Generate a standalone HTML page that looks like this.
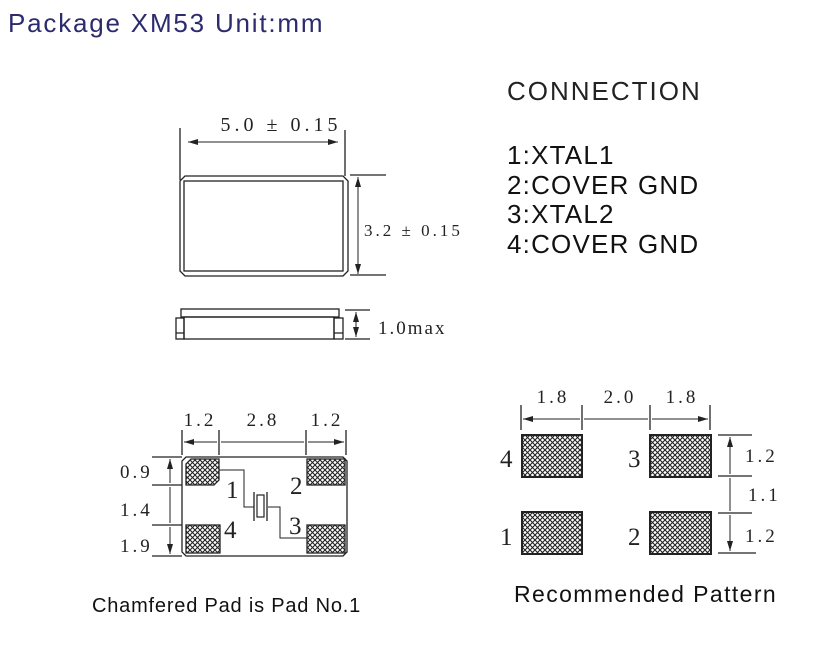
<!DOCTYPE html>
<html><head><style>body{margin:0;background:#fff}svg{display:block}</style></head><body>
<svg width="821" height="647" viewBox="0 0 821 647" xmlns="http://www.w3.org/2000/svg">
<defs>
<pattern id="h" width="5" height="5" patternUnits="userSpaceOnUse">
<rect width="5" height="5" fill="#fff"/>
<path d="M0 0L5 5M5 0L0 5" stroke="#222" stroke-width="1.1"/>
</pattern>
<marker id="a" viewBox="0 0 10 6" refX="10" refY="3" markerWidth="10" markerHeight="6" orient="auto-start-reverse" markerUnits="userSpaceOnUse"><path d="M0 0L10 3L0 6z" fill="#222"/></marker>
</defs>
<g font-family="Liberation Sans, sans-serif">
<text x="8" y="32" font-size="26" letter-spacing="1.8" fill="#2c2b6e">Package XM53 Unit:mm</text>
<text x="507" y="100" font-size="26" letter-spacing="2" fill="#222">CONNECTION</text>
<text x="507" y="164" font-size="26" letter-spacing="1.2" fill="#111">1:XTAL1</text>
<text x="507" y="194" font-size="26" letter-spacing="1.2" fill="#111">2:COVER GND</text>
<text x="507" y="223" font-size="26" letter-spacing="1.2" fill="#111">3:XTAL2</text>
<text x="507" y="253" font-size="26" letter-spacing="1.2" fill="#111">4:COVER GND</text>
<text x="92" y="612" font-size="20" letter-spacing="0.8" fill="#111">Chamfered Pad is Pad No.1</text>
<text x="514" y="602" font-size="23" letter-spacing="1.4" fill="#111">Recommended Pattern</text>
</g>
<g stroke="#222" fill="none" stroke-width="1.3">
<path d="M185 176H343L348 181V271L343 276H185L180 271V181Z"/>
<rect x="184" y="181" width="159" height="90"/>
<path d="M180 128V180M345 130V176"/>
<path d="M188 142H338" marker-start="url(#a)" marker-end="url(#a)" stroke-width="1"/>
<path d="M350 175H386M350 275H386"/>
<path d="M358 177V274" marker-start="url(#a)" marker-end="url(#a)" stroke-width="1"/>
<rect x="181" y="309" width="158" height="8"/>
<rect x="184" y="317" width="150" height="22"/>
<rect x="176" y="318" width="8" height="21"/>
<rect x="334" y="318" width="9" height="21"/>
<path d="M176 333H184M334 333H343"/>
<path d="M345 310H370M345 339H370"/>
<path d="M356 312V337" marker-start="url(#a)" marker-end="url(#a)" stroke-width="1"/>
<path d="M186 457H343L347 461V552L343 556H186L182 552V461Z"/>
<path d="M182 430V455M219 430V455M306 430V455M346 430V455"/>
<path d="M184 442H217M221 442H304M308 442H344" marker-start="url(#a)" marker-end="url(#a)" stroke-width="1"/>
<path d="M152 457H182M152 485H182M152 525H182M152 556H182"/>
<path d="M170 459V483M170 487V523M170 527V554" marker-start="url(#a)" marker-end="url(#a)" stroke-width="1"/>
<path d="M219 470H244V507H254M268 507H280V538H307" stroke-width="1"/>
<path d="M254 492V521M267 492V521" stroke-width="1.3"/>
<rect x="257" y="495" width="7" height="22" stroke-width="1.2"/>
<path d="M191 459H219V480L214 485H186V464Z" fill="url(#h)"/>
<rect x="307" y="459" width="38" height="26" fill="url(#h)"/>
<rect x="186" y="525" width="34" height="28" fill="url(#h)"/>
<rect x="307" y="525" width="38" height="28" fill="url(#h)"/>
<rect x="522" y="435" width="60" height="42" fill="url(#h)" stroke-width="2"/>
<rect x="650" y="435" width="61" height="42" fill="url(#h)" stroke-width="2"/>
<rect x="522" y="512" width="60" height="42" fill="url(#h)" stroke-width="2"/>
<rect x="650" y="512" width="61" height="42" fill="url(#h)" stroke-width="2"/>
<path d="M521 405V430M582 405V430M650 405V430M710 405V430"/>
<path d="M523 419H580M584 419H648M652 419H708" marker-start="url(#a)" marker-end="url(#a)" stroke-width="1"/>
<path d="M718 435H752M718 476H752M718 513H752M718 553H756"/>
<path d="M730 437V474M730 478V511M730 515V551" marker-start="url(#a)" marker-end="url(#a)" stroke-width="1"/>
</g>
<g font-family="Liberation Serif, serif" fill="#222">
<text x="281" y="131" font-size="20" text-anchor="middle" letter-spacing="4">5.0 ± 0.15</text>
<text x="364" y="236" font-size="17" letter-spacing="3">3.2 ± 0.15</text>
<text x="378" y="334" font-size="19" letter-spacing="2">1.0max</text>
<text x="200" y="426" font-size="19" text-anchor="middle" letter-spacing="3">1.2</text>
<text x="263" y="426" font-size="19" text-anchor="middle" letter-spacing="3">2.8</text>
<text x="327" y="426" font-size="19" text-anchor="middle" letter-spacing="3">1.2</text>
<text x="120" y="478" font-size="19" letter-spacing="3">0.9</text>
<text x="120" y="516" font-size="19" letter-spacing="3">1.4</text>
<text x="120" y="552" font-size="19" letter-spacing="3">1.9</text>
<text x="226" y="498" font-size="25">1</text>
<text x="290" y="494" font-size="25">2</text>
<text x="289" y="534" font-size="25">3</text>
<text x="224" y="538" font-size="25">4</text>
<text x="553" y="403" font-size="19" text-anchor="middle" letter-spacing="3">1.8</text>
<text x="620" y="403" font-size="19" text-anchor="middle" letter-spacing="3">2.0</text>
<text x="682" y="403" font-size="19" text-anchor="middle" letter-spacing="3">1.8</text>
<text x="745" y="462" font-size="19" letter-spacing="3">1.2</text>
<text x="748" y="501" font-size="19" letter-spacing="3">1.1</text>
<text x="745" y="542" font-size="19" letter-spacing="3">1.2</text>
<text x="500" y="467" font-size="25">4</text>
<text x="628" y="467" font-size="25">3</text>
<text x="500" y="545" font-size="25">1</text>
<text x="628" y="545" font-size="25">2</text>
</g>
</svg>
</body></html>
